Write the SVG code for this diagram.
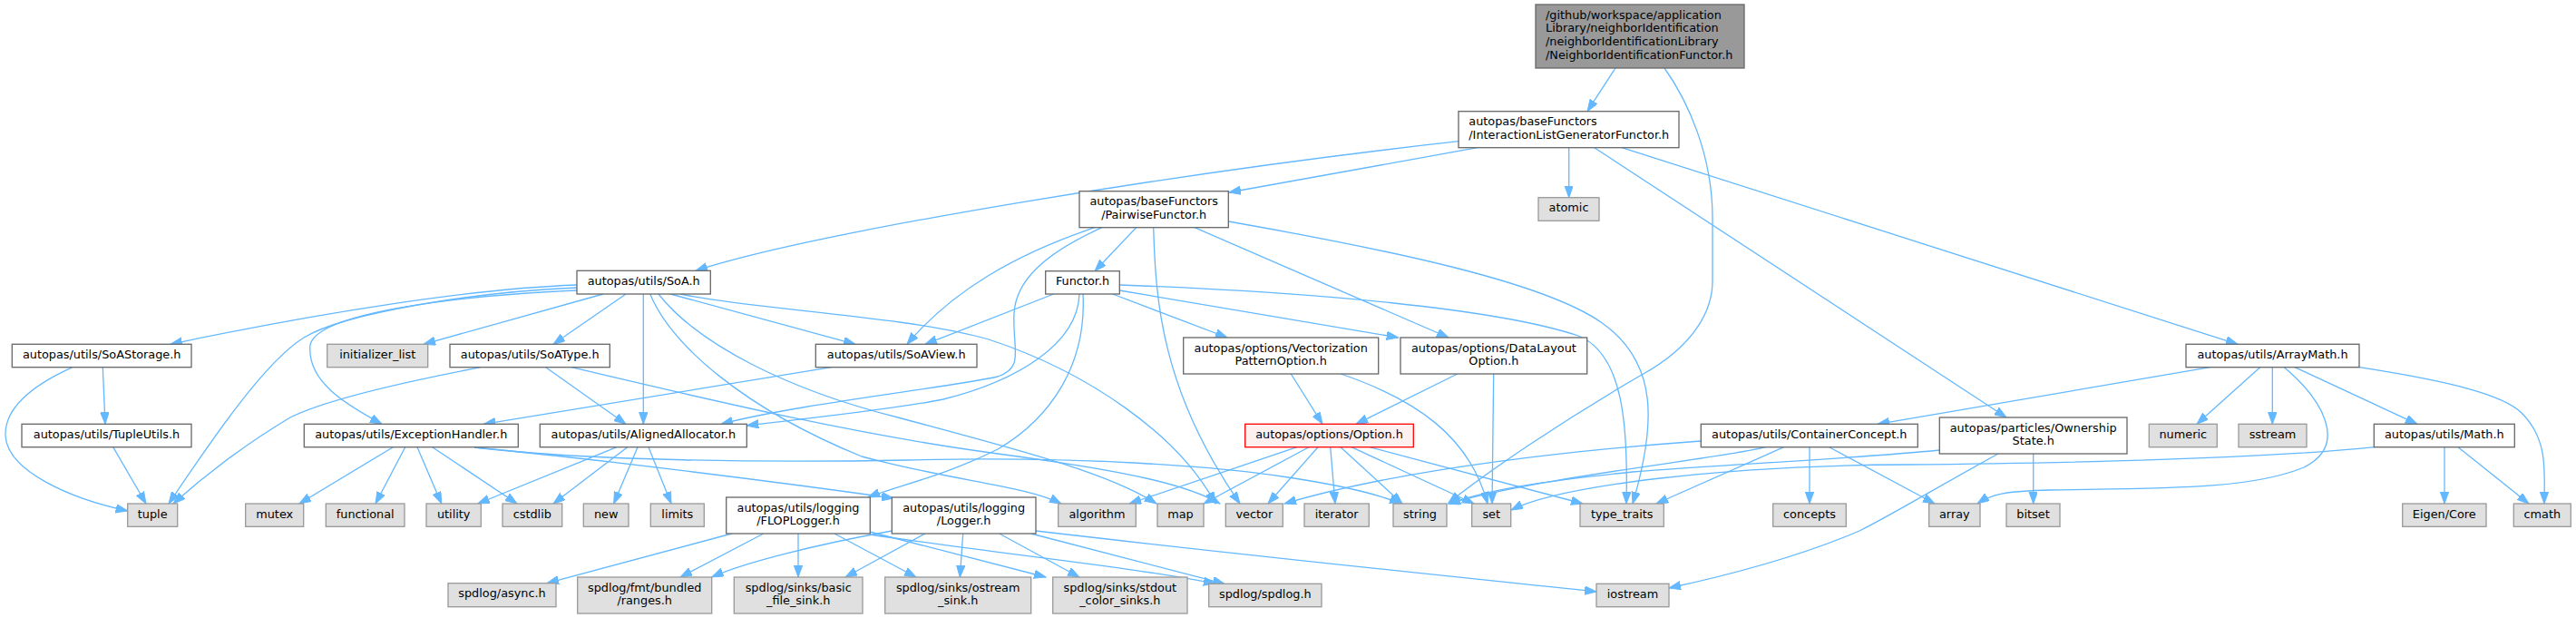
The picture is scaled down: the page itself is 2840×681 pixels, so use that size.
<svg xmlns="http://www.w3.org/2000/svg" width="2840" height="681" viewBox="0 0 2840 681">
<style>
rect{stroke-width:1.3}
.w{fill:#ffffff;stroke:#666666}
.g{fill:#e0e0e0;stroke:#999999}
.m{fill:#999999;stroke:#666666}
.r{fill:#fff0f0;stroke:#ff0000}
text{font-family:"DejaVu Sans","Liberation Sans",sans-serif;font-size:12.85px;fill:#000000}
.c{text-anchor:middle}
#edges path{fill:none;stroke:#63b8ff;stroke-width:1.3;marker-end:url(#a)}
</style>
<defs>
<marker id="a" markerWidth="14" markerHeight="10" refX="13" refY="4.7" orient="auto" markerUnits="userSpaceOnUse"><path d="M0,0 L13,4.7 L0,9.4 z" fill="#63b8ff" stroke="#63b8ff" stroke-width="1"/></marker>
</defs>
<rect width="2840" height="681" fill="#ffffff"/>
<g id="edges">
<path d="M1781,75 L1750,122.7"/>
<path d="M1835,75 C1860,110 1888,170 1888,240 L1888,310 C1888,340 1870,380 1810,413 C1720,465 1640,520 1597,554"/>
<path d="M1608,155.7 C1300,190 900,255 767,298.3"/>
<path d="M1629,162.7 L1355,212"/>
<path d="M1729.7,162.7 L1729.7,217.7"/>
<path d="M1757.7,162.7 L2212,460"/>
<path d="M1788,162.7 L2467,379.3"/>
<path d="M1252.7,250.7 L1207,298.7"/>
<path d="M1207,250.7 C1120,280 1050,320 1000,379.3"/>
<path d="M1215,250.7 C1150,280 1120,310 1118,345 C1116,385 1130,405 1100,415 C1040,428 880,445 795,467.3"/>
<path d="M1271.7,250.7 C1274,330 1280,430 1367,555"/>
<path d="M1317,250.7 L1597,372"/>
<path d="M1354.3,244 C1530,275 1700,310 1765,355 C1830,400 1825,470 1800,555"/>
<path d="M1161.7,324 L1020,379.3"/>
<path d="M1190,324 C1188,380 1120,420 1040,440 C980,452 880,462 823.3,469"/>
<path d="M1194,324 C1198,400 1160,460 1100,495 C1040,525 990,535 957,548"/>
<path d="M1226.7,324 L1353,372"/>
<path d="M1234.3,320 L1541.7,372"/>
<path d="M1234.3,314 C1450,322 1650,340 1740,370 C1790,390 1795,470 1793,555"/>
<path d="M636,314 C520,318 350,345 188,379.3"/>
<path d="M636,317 C520,322 380,345 335,372 C290,400 230,490 186,555"/>
<path d="M636,320 C500,326 350,345 342,380 C338,420 380,445 421,467.3"/>
<path d="M665,324 L467,379.3"/>
<path d="M690,324 L610,379.3"/>
<path d="M709.3,324 L709.3,467.3"/>
<path d="M739.3,324 L943,379.3"/>
<path d="M716.7,324 C740,380 820,450 950,503 C1050,530 1130,535 1170,555"/>
<path d="M726,324 C770,380 870,430 990,460 C1120,495 1220,520 1275,555"/>
<path d="M750,324 C820,340 1000,348 1090,374 C1200,410 1300,480 1340,555"/>
<path d="M113.3,404.7 L116,467.3"/>
<path d="M80,404.7 C35,425 5,450 6,480 C8,520 80,550 140.7,563"/>
<path d="M124.7,492.7 L161,555"/>
<path d="M530,404.7 C450,420 360,440 320,460 C270,490 230,520 191,555"/>
<path d="M601.7,404.7 L690,467.3"/>
<path d="M630,404.7 C800,445 950,480 1100,500 C1250,520 1310,535 1345,555"/>
<path d="M916.7,404.7 L533.3,467.3"/>
<path d="M680,492.7 L526.7,555"/>
<path d="M691.7,492.7 L610,555"/>
<path d="M703,492.7 L676.7,555"/>
<path d="M715,492.7 L740,555"/>
<path d="M433.3,492.7 L330,555"/>
<path d="M446.7,492.7 L414,555"/>
<path d="M460,492.7 L486.7,555"/>
<path d="M476.7,492.7 L570,555"/>
<path d="M523,493 C650,505 850,530 985,549"/>
<path d="M523,493 C650,508 850,510 1000,507 C1200,502 1350,515 1420,526 C1480,535 1520,545 1545,555"/>
<path d="M806.7,588 L603,642.7"/>
<path d="M841.7,588 L750,636"/>
<path d="M880,588 L880,636"/>
<path d="M920,588 L1010,636"/>
<path d="M959,586 L1153,636"/>
<path d="M959,589 C1100,610 1250,625 1340,643.3"/>
<path d="M1020,588 L932,636"/>
<path d="M983.3,585 C900,600 820,620 784.7,636"/>
<path d="M1061.7,588 L1058.3,636"/>
<path d="M1101.7,588 L1190,636"/>
<path d="M1136.7,588 L1350,643.3"/>
<path d="M1142,585 C1400,615 1600,635 1760,652"/>
<path d="M1430,492.7 L1245,555"/>
<path d="M1443,492.7 L1327,555"/>
<path d="M1453,492.7 L1398,555"/>
<path d="M1466.7,492.7 L1472,555"/>
<path d="M1478,492.7 L1546,555"/>
<path d="M1490,492.7 L1625,555"/>
<path d="M1510,492.7 L1745,555"/>
<path d="M1423.3,412 L1458,467.3"/>
<path d="M1478.3,412 C1560,440 1620,480 1640,555"/>
<path d="M1606.7,412 L1495,467.3"/>
<path d="M1646.7,412 L1645,555"/>
<path d="M1875.3,486 C1750,495 1550,515 1416,555"/>
<path d="M1946.7,492.7 C1900,505 1700,525 1597,555"/>
<path d="M1966.7,492.7 L1826,555"/>
<path d="M1995,492.7 L1995,555"/>
<path d="M2016.7,492.7 L2133,555"/>
<path d="M2241.7,500 L2241.7,555"/>
<path d="M2203,500 C2130,540 2090,565 2050,585 C1980,615 1900,635 1840,648"/>
<path d="M2138.3,496 C2050,505 1900,512 1800,520 C1700,530 1640,540 1597,555"/>
<path d="M2436.7,404.7 L2070,467.3"/>
<path d="M2491.7,404.7 L2422,467.3"/>
<path d="M2505.3,404.7 L2505.3,467.3"/>
<path d="M2518.3,404.7 C2560,440 2590,490 2540,515 C2480,540 2380,538 2260,540 C2210,541 2195,545 2180,555"/>
<path d="M2530,404.7 L2665,467.3"/>
<path d="M2601,404.7 C2700,420 2760,435 2780,455 C2810,485 2805,520 2805,555"/>
<path d="M2695,492.7 L2695,555"/>
<path d="M2710,492.7 L2788,555"/>
<path d="M2618,492.7 C2500,505 2300,510 2100,512 C1900,513 1720,535 1666,562"/>
</g>
<g id="n_main"><rect class="m" x="1693" y="5" width="230" height="70"/><text x="1704" y="20.7">/github/workspace/application</text><text x="1704" y="35.4">Library/neighborIdentification</text><text x="1704" y="50.1">/neighborIdentificationLibrary</text><text x="1704" y="64.8">/NeighborIdentificationFunctor.h</text></g>
<g id="n_ilgf"><rect class="w" x="1608" y="122.7" width="243" height="40"/><text x="1619.3" y="138.4">autopas/baseFunctors</text><text x="1619.3" y="153.1">/InteractionListGeneratorFunctor.h</text></g>
<g id="n_atomic"><rect class="g" x="1696" y="217.7" width="67" height="25.6"/><text class="c" x="1729.5" y="233.4">atomic</text></g>
<g id="n_pairwise"><rect class="w" x="1190" y="210.7" width="164.3" height="40"/><text class="c" x="1272.2" y="226.4">autopas/baseFunctors</text><text class="c" x="1272.2" y="241.1">/PairwiseFunctor.h</text></g>
<g id="n_functor"><rect class="w" x="1152.7" y="298.7" width="81.6" height="25.3"/><text class="c" x="1193.5" y="314.4">Functor.h</text></g>
<g id="n_soa"><rect class="w" x="636" y="298.3" width="147.3" height="25.7"/><text class="c" x="709.7" y="314">autopas/utils/SoA.h</text></g>
<g id="n_soastorage"><rect class="w" x="13.3" y="379.3" width="197.7" height="25.4"/><text class="c" x="112.2" y="395">autopas/utils/SoAStorage.h</text></g>
<g id="n_initlist"><rect class="g" x="360.7" y="379.3" width="111" height="25.4"/><text class="c" x="416.2" y="395">initializer_list</text></g>
<g id="n_soatype"><rect class="w" x="496" y="379.3" width="176.3" height="25.4"/><text class="c" x="584.2" y="395">autopas/utils/SoAType.h</text></g>
<g id="n_soaview"><rect class="w" x="899.3" y="379.3" width="177.7" height="25.4"/><text class="c" x="988.2" y="395">autopas/utils/SoAView.h</text></g>
<g id="n_vecopt"><rect class="w" x="1304.7" y="372" width="215" height="40"/><text class="c" x="1412.2" y="387.7">autopas/options/Vectorization</text><text class="c" x="1412.2" y="402.4">PatternOption.h</text></g>
<g id="n_dlopt"><rect class="w" x="1544" y="372" width="205.7" height="40"/><text class="c" x="1646.9" y="387.7">autopas/options/DataLayout</text><text class="c" x="1646.9" y="402.4">Option.h</text></g>
<g id="n_arraymath"><rect class="w" x="2410" y="379.3" width="191" height="25.4"/><text class="c" x="2505.5" y="395">autopas/utils/ArrayMath.h</text></g>
<g id="n_tupleutils"><rect class="w" x="24" y="467.3" width="187" height="25.4"/><text class="c" x="117.5" y="483">autopas/utils/TupleUtils.h</text></g>
<g id="n_exc"><rect class="w" x="335.3" y="467.3" width="236" height="25.4"/><text class="c" x="453.3" y="483">autopas/utils/ExceptionHandler.h</text></g>
<g id="n_aligned"><rect class="w" x="595.3" y="467.3" width="228" height="25.4"/><text class="c" x="709.3" y="483">autopas/utils/AlignedAllocator.h</text></g>
<g id="n_option"><rect class="r" x="1372.7" y="467.3" width="185.6" height="25.4"/><text class="c" x="1465.5" y="483">autopas/options/Option.h</text></g>
<g id="n_container"><rect class="w" x="1875.3" y="467.3" width="239" height="25.4"/><text class="c" x="1994.8" y="483">autopas/utils/ContainerConcept.h</text></g>
<g id="n_ownership"><rect class="w" x="2138.3" y="460" width="206.7" height="40"/><text class="c" x="2241.7" y="475.7">autopas/particles/Ownership</text><text class="c" x="2241.7" y="490.4">State.h</text></g>
<g id="n_numeric"><rect class="g" x="2369.3" y="467.3" width="75" height="25.4"/><text class="c" x="2406.8" y="483">numeric</text></g>
<g id="n_sstream"><rect class="g" x="2468" y="467.3" width="75" height="25.4"/><text class="c" x="2505.5" y="483">sstream</text></g>
<g id="n_math"><rect class="w" x="2617.3" y="467.3" width="155" height="25.4"/><text class="c" x="2694.8" y="483">autopas/utils/Math.h</text></g>
<g id="n_tuple"><rect class="g" x="140.7" y="555" width="55" height="25.3"/><text class="c" x="168.2" y="570.7">tuple</text></g>
<g id="n_mutex"><rect class="g" x="270.7" y="555" width="64" height="25.3"/><text class="c" x="302.7" y="570.7">mutex</text></g>
<g id="n_functional"><rect class="g" x="359.3" y="555" width="86.7" height="25.3"/><text class="c" x="402.7" y="570.7">functional</text></g>
<g id="n_utility"><rect class="g" x="470" y="555" width="60.3" height="25.3"/><text class="c" x="500.2" y="570.7">utility</text></g>
<g id="n_cstdlib"><rect class="g" x="554" y="555" width="65.7" height="25.3"/><text class="c" x="586.8" y="570.7">cstdlib</text></g>
<g id="n_new"><rect class="g" x="643.3" y="555" width="49.7" height="25.3"/><text class="c" x="668.2" y="570.7">new</text></g>
<g id="n_limits"><rect class="g" x="717.3" y="555" width="59" height="25.3"/><text class="c" x="746.8" y="570.7">limits</text></g>
<g id="n_floplogger"><rect class="w" x="800.7" y="548" width="158.6" height="40"/><text class="c" x="880" y="563.7">autopas/utils/logging</text><text class="c" x="880" y="578.4">/FLOPLogger.h</text></g>
<g id="n_logger"><rect class="w" x="983.3" y="548" width="158.7" height="40"/><text class="c" x="1062.7" y="563.7">autopas/utils/logging</text><text class="c" x="1062.7" y="578.4">/Logger.h</text></g>
<g id="n_algorithm"><rect class="g" x="1166.7" y="555" width="85.6" height="25.3"/><text class="c" x="1209.5" y="570.7">algorithm</text></g>
<g id="n_map"><rect class="g" x="1276" y="555" width="51" height="25.3"/><text class="c" x="1301.5" y="570.7">map</text></g>
<g id="n_vector"><rect class="g" x="1351.3" y="555" width="63" height="25.3"/><text class="c" x="1382.8" y="570.7">vector</text></g>
<g id="n_iterator"><rect class="g" x="1438" y="555" width="71.3" height="25.3"/><text class="c" x="1473.7" y="570.7">iterator</text></g>
<g id="n_string"><rect class="g" x="1536" y="555" width="59" height="25.3"/><text class="c" x="1565.5" y="570.7">string</text></g>
<g id="n_set"><rect class="g" x="1622.7" y="555" width="43" height="25.3"/><text class="c" x="1644.2" y="570.7">set</text></g>
<g id="n_typetraits"><rect class="g" x="1742" y="555" width="92.3" height="25.3"/><text class="c" x="1788.2" y="570.7">type_traits</text></g>
<g id="n_concepts"><rect class="g" x="1954.7" y="555" width="80.6" height="25.3"/><text class="c" x="1995" y="570.7">concepts</text></g>
<g id="n_array"><rect class="g" x="2126.7" y="555" width="56.3" height="25.3"/><text class="c" x="2154.8" y="570.7">array</text></g>
<g id="n_bitset"><rect class="g" x="2212" y="555" width="59" height="25.3"/><text class="c" x="2241.5" y="570.7">bitset</text></g>
<g id="n_eigen"><rect class="g" x="2648.7" y="555" width="92.3" height="25.3"/><text class="c" x="2694.8" y="570.7">Eigen/Core</text></g>
<g id="n_cmath"><rect class="g" x="2771.3" y="555" width="63" height="25.3"/><text class="c" x="2802.8" y="570.7">cmath</text></g>
<g id="n_async"><rect class="g" x="494" y="642.7" width="119" height="26"/><text class="c" x="553.5" y="658.4">spdlog/async.h</text></g>
<g id="n_ranges"><rect class="g" x="636.7" y="636" width="148" height="40"/><text class="c" x="710.7" y="651.7">spdlog/fmt/bundled</text><text class="c" x="710.7" y="666.4">/ranges.h</text></g>
<g id="n_basic"><rect class="g" x="809.3" y="636" width="141.7" height="40"/><text class="c" x="880.2" y="651.7">spdlog/sinks/basic</text><text class="c" x="880.2" y="666.4">_file_sink.h</text></g>
<g id="n_ostream"><rect class="g" x="975.7" y="636" width="161" height="40"/><text class="c" x="1056.2" y="651.7">spdlog/sinks/ostream</text><text class="c" x="1056.2" y="666.4">_sink.h</text></g>
<g id="n_stdout"><rect class="g" x="1160.7" y="636" width="148.3" height="40"/><text class="c" x="1234.8" y="651.7">spdlog/sinks/stdout</text><text class="c" x="1234.8" y="666.4">_color_sinks.h</text></g>
<g id="n_spdlog"><rect class="g" x="1332.7" y="643.3" width="124.3" height="25.4"/><text class="c" x="1394.8" y="659">spdlog/spdlog.h</text></g>
<g id="n_iostream"><rect class="g" x="1760" y="643.3" width="80" height="25.4"/><text class="c" x="1800" y="659">iostream</text></g>
</svg>
